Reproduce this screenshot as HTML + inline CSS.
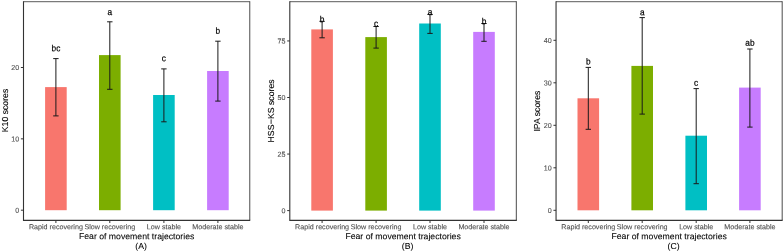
<!DOCTYPE html>
<html><head><meta charset="utf-8"><style>
html,body{margin:0;padding:0;background:#fff;}
svg{display:block;font-family:'Liberation Sans', Arial, Helvetica, sans-serif;text-rendering:geometricPrecision;}
.k{fill:#000;stroke:#000;stroke-width:0.08px;}
.g{fill:#4d4d4d;stroke:#4d4d4d;stroke-width:0.1px;}
.L{fill:#000;stroke:#000;stroke-width:0.18px;}
.Y{fill:#000;stroke:#000;stroke-width:0.12px;}
</style></head><body><div id="w">
<svg width="784" height="252" viewBox="0 0 784 252">
<rect width="784" height="252" fill="#fff"/>
<rect x="45.10" y="87.10" width="21.60" height="123.10" fill="#F8766D"/>
<rect x="99.00" y="55.10" width="21.60" height="155.10" fill="#7CAE00"/>
<rect x="153.10" y="95.00" width="21.60" height="115.20" fill="#00BFC4"/>
<rect x="207.10" y="71.00" width="21.60" height="139.20" fill="#C77CFF"/>
<path d="M53.20 58.60H58.60M55.90 58.60V115.90M53.20 115.90H58.60" stroke="#1a1a1a" stroke-width="1.0" fill="none"/>
<path d="M107.10 21.80H112.50M109.80 21.80V89.30M107.10 89.30H112.50" stroke="#1a1a1a" stroke-width="1.0" fill="none"/>
<path d="M161.20 68.90H166.60M163.90 68.90V121.80M161.20 121.80H166.60" stroke="#1a1a1a" stroke-width="1.0" fill="none"/>
<path d="M215.20 41.20H220.60M217.90 41.20V101.10M215.20 101.10H220.60" stroke="#1a1a1a" stroke-width="1.0" fill="none"/>
<text x="0" y="0" font-size="8.3" text-anchor="middle" class="L" transform="translate(55.90 51.35) scale(1 1.08) skewY(0.1)">bc</text>
<text x="0" y="0" font-size="8.3" text-anchor="middle" class="L" transform="translate(109.80 14.95) scale(1 1.08) skewY(0.1)">a</text>
<text x="0" y="0" font-size="8.3" text-anchor="middle" class="L" transform="translate(163.90 61.25) scale(1 1.08) skewY(0.1)">c</text>
<text x="0" y="0" font-size="8.3" text-anchor="middle" class="L" transform="translate(217.90 33.85) scale(1 1.08) skewY(0.1)">b</text>
<path d="M23.50 1.70H249.75" fill="none" stroke="#333333" stroke-width="0.95" stroke-opacity="0.85"/>
<path d="M249.75 1.23V219.90" fill="none" stroke="#333333" stroke-width="1.1" stroke-opacity="0.8"/>
<path d="M23.50 1.20V220.40H250.25" fill="none" stroke="#333333" stroke-width="1.1"/>
<path d="M20.90 210.20H23.50" stroke="#333333" stroke-width="1"/>
<text x="0" y="0" font-size="7.15" text-anchor="end" class="g" transform="translate(19.20 212.82) skewY(0.1)">0</text>
<path d="M20.90 138.85H23.50" stroke="#333333" stroke-width="1"/>
<text x="0" y="0" font-size="7.15" text-anchor="end" class="g" transform="translate(19.20 141.47) skewY(0.1)">10</text>
<path d="M20.90 67.50H23.50" stroke="#333333" stroke-width="1"/>
<text x="0" y="0" font-size="7.15" text-anchor="end" class="g" transform="translate(19.20 70.12) skewY(0.1)">20</text>
<path d="M55.90 220.40V223.00" stroke="#333333" stroke-width="1"/>
<text x="0" y="0" font-size="7.15" text-anchor="middle" class="g" transform="translate(55.90 229.30) skewY(0.1)">Rapid recovering</text>
<path d="M109.80 220.40V223.00" stroke="#333333" stroke-width="1"/>
<text x="0" y="0" font-size="7.15" text-anchor="middle" class="g" transform="translate(109.80 229.30) skewY(0.1)">Slow recovering</text>
<path d="M163.90 220.40V223.00" stroke="#333333" stroke-width="1"/>
<text x="0" y="0" font-size="7.15" text-anchor="middle" class="g" transform="translate(163.90 229.30) skewY(0.1)">Low stable</text>
<path d="M217.90 220.40V223.00" stroke="#333333" stroke-width="1"/>
<text x="0" y="0" font-size="7.15" text-anchor="middle" class="g" transform="translate(217.90 229.30) skewY(0.1)">Moderate stable</text>
<text x="0" y="0" font-size="8.7" text-anchor="middle" class="k" transform="translate(136.62 239.20) skewY(0.1)">Fear of movement trajectories</text>
<text x="0" y="0" font-size="8.7" text-anchor="middle" class="k" transform="translate(141.12 248.90) skewY(0.1)">(A)</text>
<text x="8.00" y="110.50" font-size="8.7" text-anchor="middle" class="Y" transform="rotate(-90 8.00 110.50)">K10 scores</text>
<rect x="311.30" y="29.40" width="21.60" height="181.20" fill="#F8766D"/>
<rect x="365.30" y="37.10" width="21.60" height="173.50" fill="#7CAE00"/>
<rect x="419.20" y="23.50" width="21.60" height="187.10" fill="#00BFC4"/>
<rect x="473.20" y="31.90" width="21.60" height="178.70" fill="#C77CFF"/>
<path d="M319.40 21.30H324.80M322.10 21.30V37.80M319.40 37.80H324.80" stroke="#1a1a1a" stroke-width="1.0" fill="none"/>
<path d="M373.40 26.50H378.80M376.10 26.50V48.10M373.40 48.10H378.80" stroke="#1a1a1a" stroke-width="1.0" fill="none"/>
<path d="M427.30 14.40H432.70M430.00 14.40V33.40M427.30 33.40H432.70" stroke="#1a1a1a" stroke-width="1.0" fill="none"/>
<path d="M481.30 23.50H486.70M484.00 23.50V41.30M481.30 41.30H486.70" stroke="#1a1a1a" stroke-width="1.0" fill="none"/>
<text x="0" y="0" font-size="8.3" text-anchor="middle" class="L" transform="translate(322.10 22.15) scale(1 1.08) skewY(0.1)">b</text>
<text x="0" y="0" font-size="8.3" text-anchor="middle" class="L" transform="translate(376.10 26.55) scale(1 1.08) skewY(0.1)">c</text>
<text x="0" y="0" font-size="8.3" text-anchor="middle" class="L" transform="translate(430.00 14.95) scale(1 1.08) skewY(0.1)">a</text>
<text x="0" y="0" font-size="8.3" text-anchor="middle" class="L" transform="translate(484.00 24.15) scale(1 1.08) skewY(0.1)">b</text>
<path d="M289.80 1.70H516.35" fill="none" stroke="#333333" stroke-width="0.95" stroke-opacity="0.85"/>
<path d="M516.35 1.23V219.90" fill="none" stroke="#333333" stroke-width="1.1" stroke-opacity="0.8"/>
<path d="M289.80 1.20V220.40H516.85" fill="none" stroke="#333333" stroke-width="1.1"/>
<path d="M287.20 210.60H289.80" stroke="#333333" stroke-width="1"/>
<text x="0" y="0" font-size="7.15" text-anchor="end" class="g" transform="translate(285.50 213.22) skewY(0.1)">0</text>
<path d="M287.20 154.05H289.80" stroke="#333333" stroke-width="1"/>
<text x="0" y="0" font-size="7.15" text-anchor="end" class="g" transform="translate(285.50 156.67) skewY(0.1)">25</text>
<path d="M287.20 97.50H289.80" stroke="#333333" stroke-width="1"/>
<text x="0" y="0" font-size="7.15" text-anchor="end" class="g" transform="translate(285.50 100.12) skewY(0.1)">50</text>
<path d="M287.20 40.95H289.80" stroke="#333333" stroke-width="1"/>
<text x="0" y="0" font-size="7.15" text-anchor="end" class="g" transform="translate(285.50 43.57) skewY(0.1)">75</text>
<path d="M322.10 220.40V223.00" stroke="#333333" stroke-width="1"/>
<text x="0" y="0" font-size="7.15" text-anchor="middle" class="g" transform="translate(322.10 229.30) skewY(0.1)">Rapid recovering</text>
<path d="M376.10 220.40V223.00" stroke="#333333" stroke-width="1"/>
<text x="0" y="0" font-size="7.15" text-anchor="middle" class="g" transform="translate(376.10 229.30) skewY(0.1)">Slow recovering</text>
<path d="M430.00 220.40V223.00" stroke="#333333" stroke-width="1"/>
<text x="0" y="0" font-size="7.15" text-anchor="middle" class="g" transform="translate(430.00 229.30) skewY(0.1)">Low stable</text>
<path d="M484.00 220.40V223.00" stroke="#333333" stroke-width="1"/>
<text x="0" y="0" font-size="7.15" text-anchor="middle" class="g" transform="translate(484.00 229.30) skewY(0.1)">Moderate stable</text>
<text x="0" y="0" font-size="8.7" text-anchor="middle" class="k" transform="translate(403.08 239.20) skewY(0.1)">Fear of movement trajectories</text>
<text x="0" y="0" font-size="8.7" text-anchor="middle" class="k" transform="translate(407.58 248.90) skewY(0.1)">(B)</text>
<text x="274.10" y="110.90" font-size="8.7" text-anchor="middle" class="Y" transform="rotate(-90 274.10 110.90)">HSS<tspan dx="0.25">&#8722;</tspan><tspan dx="0.25">KS scores</tspan></text>
<rect x="577.50" y="98.30" width="21.60" height="112.00" fill="#F8766D"/>
<rect x="631.40" y="65.90" width="21.60" height="144.40" fill="#7CAE00"/>
<rect x="685.40" y="135.70" width="21.60" height="74.60" fill="#00BFC4"/>
<rect x="739.10" y="87.60" width="21.60" height="122.70" fill="#C77CFF"/>
<path d="M585.60 67.40H591.00M588.30 67.40V129.30M585.60 129.30H591.00" stroke="#1a1a1a" stroke-width="1.0" fill="none"/>
<path d="M639.50 17.60H644.90M642.20 17.60V114.10M639.50 114.10H644.90" stroke="#1a1a1a" stroke-width="1.0" fill="none"/>
<path d="M693.50 88.60H698.90M696.20 88.60V183.70M693.50 183.70H698.90" stroke="#1a1a1a" stroke-width="1.0" fill="none"/>
<path d="M747.20 49.00H752.60M749.90 49.00V127.10M747.20 127.10H752.60" stroke="#1a1a1a" stroke-width="1.0" fill="none"/>
<text x="0" y="0" font-size="8.3" text-anchor="middle" class="L" transform="translate(588.30 64.45) scale(1 1.08) skewY(0.1)">b</text>
<text x="0" y="0" font-size="8.3" text-anchor="middle" class="L" transform="translate(642.20 15.25) scale(1 1.08) skewY(0.1)">a</text>
<text x="0" y="0" font-size="8.3" text-anchor="middle" class="L" transform="translate(696.20 85.75) scale(1 1.08) skewY(0.1)">c</text>
<text x="0" y="0" font-size="8.3" text-anchor="middle" class="L" transform="translate(749.90 45.85) scale(1 1.08) skewY(0.1)">ab</text>
<path d="M556.05 1.70H782.20" fill="none" stroke="#333333" stroke-width="0.95" stroke-opacity="0.85"/>
<path d="M782.20 1.23V219.90" fill="none" stroke="#333333" stroke-width="1.1" stroke-opacity="0.8"/>
<path d="M556.05 1.20V220.40H782.70" fill="none" stroke="#333333" stroke-width="1.1"/>
<path d="M553.45 210.30H556.05" stroke="#333333" stroke-width="1"/>
<text x="0" y="0" font-size="7.15" text-anchor="end" class="g" transform="translate(551.75 212.92) skewY(0.1)">0</text>
<path d="M553.45 167.80H556.05" stroke="#333333" stroke-width="1"/>
<text x="0" y="0" font-size="7.15" text-anchor="end" class="g" transform="translate(551.75 170.42) skewY(0.1)">10</text>
<path d="M553.45 125.30H556.05" stroke="#333333" stroke-width="1"/>
<text x="0" y="0" font-size="7.15" text-anchor="end" class="g" transform="translate(551.75 127.92) skewY(0.1)">20</text>
<path d="M553.45 82.80H556.05" stroke="#333333" stroke-width="1"/>
<text x="0" y="0" font-size="7.15" text-anchor="end" class="g" transform="translate(551.75 85.42) skewY(0.1)">30</text>
<path d="M553.45 40.30H556.05" stroke="#333333" stroke-width="1"/>
<text x="0" y="0" font-size="7.15" text-anchor="end" class="g" transform="translate(551.75 42.92) skewY(0.1)">40</text>
<path d="M588.30 220.40V223.00" stroke="#333333" stroke-width="1"/>
<text x="0" y="0" font-size="7.15" text-anchor="middle" class="g" transform="translate(588.30 229.30) skewY(0.1)">Rapid recovering</text>
<path d="M642.20 220.40V223.00" stroke="#333333" stroke-width="1"/>
<text x="0" y="0" font-size="7.15" text-anchor="middle" class="g" transform="translate(642.20 229.30) skewY(0.1)">Slow recovering</text>
<path d="M696.20 220.40V223.00" stroke="#333333" stroke-width="1"/>
<text x="0" y="0" font-size="7.15" text-anchor="middle" class="g" transform="translate(696.20 229.30) skewY(0.1)">Low stable</text>
<path d="M749.90 220.40V223.00" stroke="#333333" stroke-width="1"/>
<text x="0" y="0" font-size="7.15" text-anchor="middle" class="g" transform="translate(749.90 229.30) skewY(0.1)">Moderate stable</text>
<text x="0" y="0" font-size="8.7" text-anchor="middle" class="k" transform="translate(669.12 239.20) skewY(0.1)">Fear of movement trajectories</text>
<text x="0" y="0" font-size="8.7" text-anchor="middle" class="k" transform="translate(673.62 248.90) skewY(0.1)">(C)</text>
<text x="539.55" y="111.10" font-size="8.7" text-anchor="middle" class="Y" transform="rotate(-90 539.55 111.10)">IPA scores</text>
</svg></div>
</body></html>
